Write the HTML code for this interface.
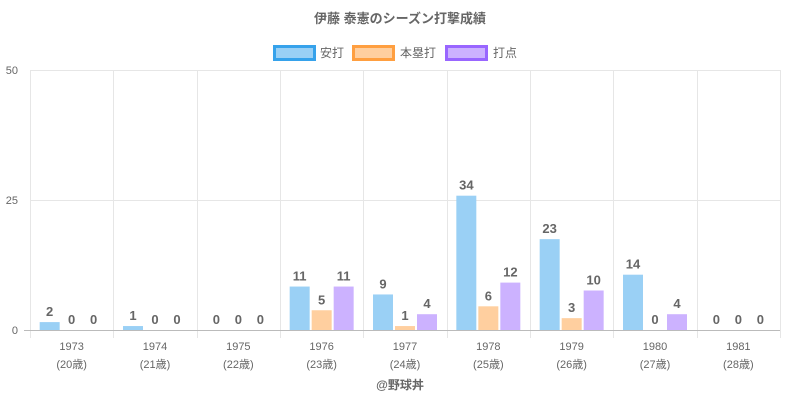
<!DOCTYPE html>
<html><head><meta charset="utf-8"><style>
body{margin:0;background:#fff}
text{font-family:"Liberation Sans","Noto Sans CJK JP",sans-serif}
</style></head><body>
<svg width="800" height="400" xmlns="http://www.w3.org/2000/svg">
<rect width="800" height="400" fill="#fff"/>
<text x="400" y="23" text-anchor="middle" font-size="13" font-weight="bold" fill="#666">伊藤 泰憲のシーズン打撃成績</text>
<rect x="274.5" y="46.5" width="40" height="13" fill="#9ad0f5" stroke="#36a2eb" stroke-width="3"/>
<text x="320" y="57" font-size="12" fill="#666">安打</text>
<rect x="353.5" y="46.5" width="40" height="13" fill="#ffcf9f" stroke="#ff9f40" stroke-width="3"/>
<text x="400" y="57" font-size="12" fill="#666">本塁打</text>
<rect x="446.5" y="46.5" width="40" height="13" fill="#ccb2ff" stroke="#9966ff" stroke-width="3"/>
<text x="493" y="57" font-size="12" fill="#666">打点</text>
<g stroke="#e6e6e6" stroke-width="1">
<line x1="30" y1="70.5" x2="780" y2="70.5"/>
<line x1="30" y1="200.5" x2="780" y2="200.5"/>
<line x1="30.5" y1="70" x2="30.5" y2="338"/>
<line x1="113.5" y1="70" x2="113.5" y2="338"/>
<line x1="197.5" y1="70" x2="197.5" y2="338"/>
<line x1="280.5" y1="70" x2="280.5" y2="338"/>
<line x1="363.5" y1="70" x2="363.5" y2="338"/>
<line x1="447.5" y1="70" x2="447.5" y2="338"/>
<line x1="530.5" y1="70" x2="530.5" y2="338"/>
<line x1="613.5" y1="70" x2="613.5" y2="338"/>
<line x1="697.5" y1="70" x2="697.5" y2="338"/>
<line x1="780.5" y1="70" x2="780.5" y2="338"/>
</g>
<g font-size="11" fill="#666" text-anchor="end">
<text x="18" y="74">50</text><text x="18" y="204">25</text><text x="18" y="334">0</text>
</g>
<g>
<rect x="39.67" y="322.1" width="20" height="7.9" fill="#9ad0f5"/>
<rect x="123" y="326.05" width="20" height="3.95" fill="#9ad0f5"/>
<rect x="289.67" y="286.55" width="20" height="43.45" fill="#9ad0f5"/>
<rect x="311.67" y="310.25" width="20" height="19.75" fill="#ffcf9f"/>
<rect x="333.67" y="286.55" width="20" height="43.45" fill="#ccb2ff"/>
<rect x="373" y="294.45" width="20" height="35.55" fill="#9ad0f5"/>
<rect x="395" y="326.05" width="20" height="3.95" fill="#ffcf9f"/>
<rect x="417" y="314.2" width="20" height="15.8" fill="#ccb2ff"/>
<rect x="456.33" y="195.7" width="20" height="134.3" fill="#9ad0f5"/>
<rect x="478.33" y="306.3" width="20" height="23.7" fill="#ffcf9f"/>
<rect x="500.33" y="282.6" width="20" height="47.4" fill="#ccb2ff"/>
<rect x="539.67" y="239.15" width="20" height="90.85" fill="#9ad0f5"/>
<rect x="561.67" y="318.15" width="20" height="11.85" fill="#ffcf9f"/>
<rect x="583.67" y="290.5" width="20" height="39.5" fill="#ccb2ff"/>
<rect x="623" y="274.7" width="20" height="55.3" fill="#9ad0f5"/>
<rect x="667" y="314.2" width="20" height="15.8" fill="#ccb2ff"/>
</g>
<line x1="24" y1="330.5" x2="780" y2="330.5" stroke="#bbb"/>
<g font-size="13" font-weight="bold" fill="#666" text-anchor="middle">
<text x="49.67" y="316">2</text><text x="71.67" y="324">0</text><text x="93.67" y="324">0</text>
<text x="133" y="320">1</text><text x="155" y="324">0</text><text x="177" y="324">0</text>
<text x="216.33" y="324">0</text><text x="238.33" y="324">0</text><text x="260.33" y="324">0</text>
<text x="299.67" y="280.5">11</text><text x="321.67" y="304.25">5</text><text x="343.67" y="280.5">11</text>
<text x="383" y="288.45">9</text><text x="405" y="320">1</text><text x="427" y="308.2">4</text>
<text x="466.33" y="189.7">34</text><text x="488.33" y="300.3">6</text><text x="510.33" y="276.6">12</text>
<text x="549.67" y="233.15">23</text><text x="571.67" y="312.15">3</text><text x="593.67" y="284.5">10</text>
<text x="633" y="268.7">14</text><text x="655" y="324">0</text><text x="677" y="308.2">4</text>
<text x="716.33" y="324">0</text><text x="738.33" y="324">0</text><text x="760.33" y="324">0</text>
</g>
<g font-size="11" fill="#666" text-anchor="middle">
<text x="71.67" y="350">1973</text><text x="71.67" y="368">(20歳)</text>
<text x="155" y="350">1974</text><text x="155" y="368">(21歳)</text>
<text x="238.33" y="350">1975</text><text x="238.33" y="368">(22歳)</text>
<text x="321.67" y="350">1976</text><text x="321.67" y="368">(23歳)</text>
<text x="405" y="350">1977</text><text x="405" y="368">(24歳)</text>
<text x="488.33" y="350">1978</text><text x="488.33" y="368">(25歳)</text>
<text x="571.67" y="350">1979</text><text x="571.67" y="368">(26歳)</text>
<text x="655" y="350">1980</text><text x="655" y="368">(27歳)</text>
<text x="738.33" y="350">1981</text><text x="738.33" y="368">(28歳)</text>
</g>
<text x="400" y="389" text-anchor="middle" font-size="12" font-weight="bold" fill="#666">@野球丼</text>
</svg>
</body></html>
